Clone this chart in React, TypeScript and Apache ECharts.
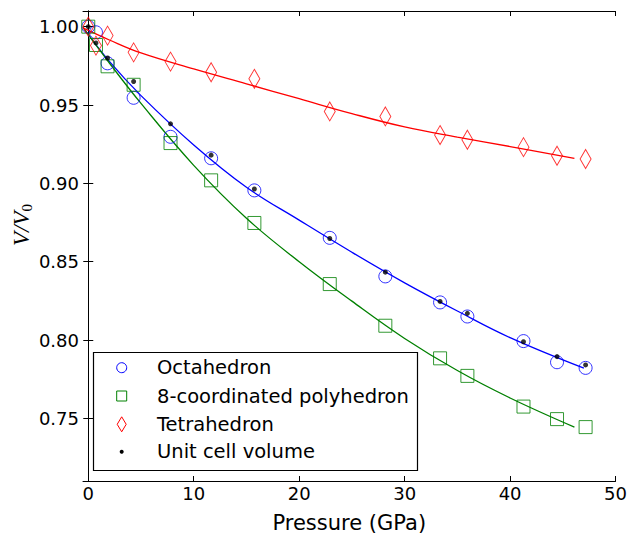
import React, { useEffect, useRef } from "react";
import * as echarts from "echarts";

// ---- data ----
const pressure = [0, 0.73, 1.83, 4.3, 7.8, 11.65, 15.75, 22.9, 28.17, 33.36, 35.95, 41.27, 44.45, 47.16];
const octahedron = [1.0, 0.9964, 0.9766, 0.9546, 0.9297, 0.916, 0.8955, 0.8652, 0.8406, 0.824, 0.815, 0.7993, 0.7858, 0.7822];
const poly8 = [1.0, 0.9883, 0.9747, 0.9629, 0.9257, 0.9019, 0.8747, 0.8357, 0.8091, 0.7883, 0.7771, 0.7575, 0.7495, 0.7444];
const tetrahedron = [1.0, 0.9879, 0.9943, 0.9836, 0.9777, 0.9709, 0.9667, 0.9459, 0.9427, 0.9308, 0.9278, 0.9231, 0.9176, 0.9155];
const unitCell = [1.0, 0.9896, 0.98, 0.965, 0.938, 0.918, 0.8964, 0.8648, 0.8433, 0.8246, 0.817, 0.7989, 0.7894, 0.7841];

// fitted curves
const fitOctaX = [-0.5, 2, 5, 10, 15, 20, 25, 30, 35, 40, 47];
const fitOctaY = [0.9995, 0.9778, 0.956, 0.9245, 0.8975, 0.8765, 0.856, 0.8365, 0.8185, 0.8015, 0.782];
const fitPolyX = [-0.5, 2, 5, 10, 15, 20, 25, 30, 35, 40, 46.1];
const fitPolyY = [0.9995, 0.9768, 0.951, 0.9115, 0.8777, 0.85, 0.8248, 0.801, 0.7805, 0.763, 0.7444];
const fitTetraX = [-0.5, 2, 5, 10, 15, 20, 25, 30, 35, 40, 46.1];
const fitTetraY = [0.9992, 0.9915, 0.9832, 0.973, 0.9635, 0.954, 0.9445, 0.936, 0.9295, 0.9235, 0.9159];

const xTicks = [0, 10, 20, 30, 40, 50];
const yTicks = [0.75, 0.8, 0.85, 0.9, 0.95, 1.0];
const seriesNames = ["Octahedron", "8-coordinated polyhedron", "Tetrahedron", "Unit cell volume"];

const BLUE = "#0000ff";
const GREEN = "#008000";
const RED = "#ff0000";
const FONT = "DejaVu Sans";

const zip = (xs: number[], ys: number[]) => xs.map((x, i) => [x, ys[i]]);

export default function App() {
  const ref = useRef<HTMLDivElement>(null);
  useEffect(() => {
    if (!ref.current) return;
    const chart = echarts.init(ref.current, null, { renderer: "svg" });
    const axisLine = { show: true, lineStyle: { color: "#000", width: 1 } };
    const tick = (vals: number[]) => ({
      show: true,
      inside: true,
      length: 5,
      customValues: vals,
      lineStyle: { color: "#000", width: 1 },
    });
    const lineSeries = (xs: number[], ys: number[], color: string) => ({
      type: "line",
      data: zip(xs, ys),
      showSymbol: false,
      smooth: 0.4,
      lineStyle: { color, width: 1.3 },
      itemStyle: { color },
      silent: true,
      z: 2,
    });
    const scatter = (name: string, ys: number[], symbol: string, size: any, color: string) => ({
      type: "scatter",
      name,
      data: zip(pressure, ys),
      symbol,
      symbolSize: size,
      itemStyle: { color: "rgba(0,0,0,0)", borderColor: color, borderWidth: 1 },
      z: 3,
    });
    const legX = 93.5;
    const legY = 352.5;
    const rowY = [367.7, 396, 424.3, 451.7];
    const symX = 121.7;
    chart.setOption({
      animation: false,
      grid: { left: 83, top: 11, width: 535, height: 470, containLabel: false },
      xAxis: [
        {
          type: "value",
          min: -0.5,
          max: 50,
          position: "bottom",
          axisLine,
          axisTick: tick(xTicks),
          axisLabel: {
            customValues: xTicks,
            fontSize: 18,
            fontFamily: FONT,
            color: "#000",
            margin: 3,
          },
          splitLine: { show: false },
          name: "Pressure (GPa)",
          nameLocation: "middle",
          nameGap: 31,
          nameTextStyle: { fontSize: 21, fontFamily: FONT, color: "#000" },
        },
        {
          type: "value",
          min: -0.5,
          max: 50,
          position: "top",
          axisLine,
          axisTick: tick(xTicks),
          axisLabel: { show: false },
          splitLine: { show: false },
        },
      ],
      yAxis: [
        {
          type: "value",
          min: 0.71,
          max: 1.01,
          position: "left",
          axisLine,
          axisTick: tick(yTicks),
          axisLabel: {
            customValues: yTicks,
            fontSize: 18,
            fontFamily: FONT,
            color: "#000",
            margin: 4,
            formatter: (v: number) => v.toFixed(2),
          },
          splitLine: { show: false },
        },
        {
          type: "value",
          min: 0.71,
          max: 1.01,
          position: "right",
          axisLine,
          axisTick: tick(yTicks),
          axisLabel: { show: false },
          splitLine: { show: false },
        },
      ],
      series: [
        lineSeries(fitOctaX, fitOctaY, BLUE),
        lineSeries(fitPolyX, fitPolyY, GREEN),
        lineSeries(fitTetraX, fitTetraY, RED),
        scatter(seriesNames[0], octahedron, "circle", 13, BLUE),
        scatter(seriesNames[1], poly8, "rect", 13, GREEN),
        scatter(seriesNames[2], tetrahedron, "diamond", [11, 19], RED),
        {
          type: "scatter",
          name: seriesNames[3],
          data: zip(pressure, unitCell),
          symbol: "circle",
          symbolSize: 5,
          itemStyle: { color: "#000" },
          z: 4,
        },
      ],
      graphic: [
        {
          type: "text",
          x: 21,
          y: 225,
          rotation: Math.PI / 2,
          style: {
            text: "{i|V/V}{s|0}",
            align: "center",
            verticalAlign: "middle",
            rich: {
              i: { fontFamily: "Liberation Serif", fontStyle: "italic", fontSize: 23, fill: "#000", lineHeight: 26 },
              s: { fontFamily: "Liberation Serif", fontSize: 15, fill: "#000", lineHeight: 26, padding: [12, 0, 0, 0] },
            },
          },
        },
        {
          type: "group",
          z: 100,
          children: [
            {
              type: "rect",
              shape: { x: legX, y: legY, width: 324, height: 118 },
              style: { fill: "#fff", stroke: "#000", lineWidth: 1.2 },
            },
            {
              type: "circle",
              shape: { cx: symX, cy: rowY[0], r: 5 },
              style: { fill: "none", stroke: BLUE, lineWidth: 1 },
            },
            {
              type: "rect",
              shape: { x: symX - 5, y: rowY[1] - 5, width: 10, height: 10 },
              style: { fill: "none", stroke: GREEN, lineWidth: 1 },
            },
            {
              type: "polygon",
              shape: {
                points: [
                  [symX, rowY[2] - 7.5],
                  [symX + 4.5, rowY[2]],
                  [symX, rowY[2] + 7.5],
                  [symX - 4.5, rowY[2]],
                ],
              },
              style: { fill: "none", stroke: RED, lineWidth: 1 },
            },
            {
              type: "circle",
              shape: { cx: symX, cy: rowY[3], r: 2 },
              style: { fill: "#000" },
            },
            ...seriesNames.map((n, i) => ({
              type: "text",
              x: 157,
              y: rowY[i],
              style: {
                text: n,
                fontFamily: FONT,
                fontSize: 19.5,
                fill: "#000",
                verticalAlign: "middle",
                align: "left",
              },
            })),
          ],
        },
      ],
    });
    return () => chart.dispose();
  }, []);
  return (
    <div
      ref={ref}
      style={{ position: "absolute", left: 0, top: 0, width: 630, height: 539 }}
    />
  );
}
